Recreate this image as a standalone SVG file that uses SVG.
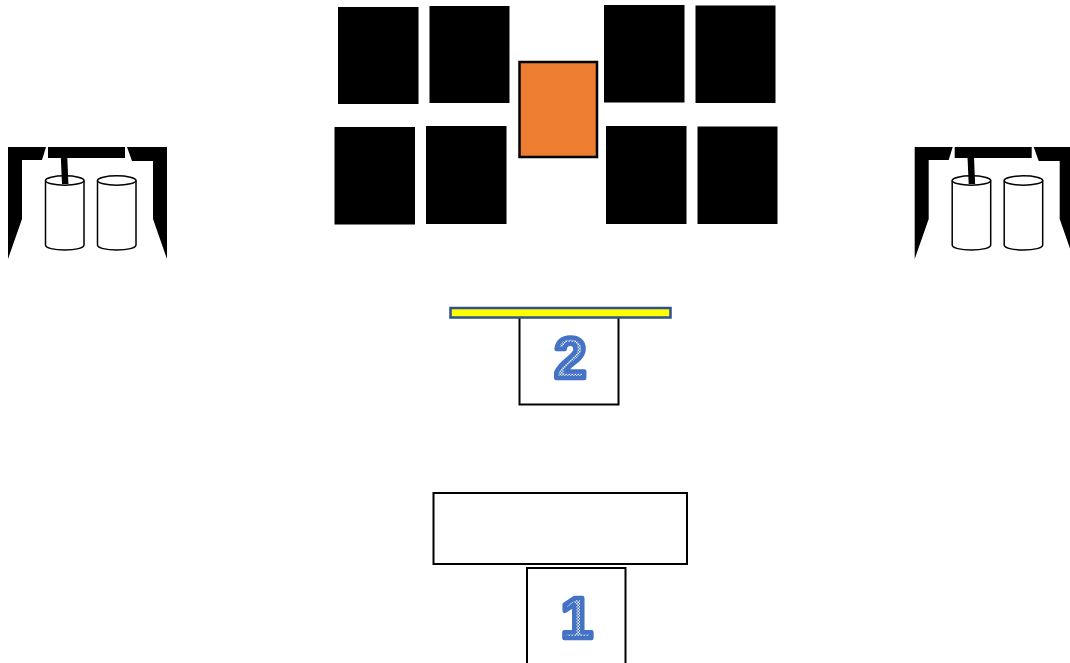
<svg xmlns="http://www.w3.org/2000/svg" width="1070" height="663" viewBox="0 0 1070 663">
<style>
.b{fill:#000}
.cyl{fill:#fff;stroke:#000;stroke-width:1.5}
.box{fill:#fff;stroke:#000;stroke-width:2}
.num{font-family:"Liberation Sans",Arial,sans-serif;font-weight:bold;font-size:58px;text-anchor:middle;fill:url(#dots);stroke:#4472c4;stroke-width:4.500;stroke-linejoin:round}
</style>
<defs>
<pattern id="dots" width="3" height="3" patternUnits="userSpaceOnUse">
<rect width="3" height="3" fill="#4472c4"/>
<rect width="1.5" height="1.5" fill="#e6ecf8"/>
<rect x="1.5" y="1.5" width="1.5" height="1.5" fill="#e6ecf8"/>
</pattern>
<g id="machine">
<polygon class="b" points="8,147 46,147 42,160 22,160 22,219 8,259"/>
<rect class="b" x="48" y="147" width="77" height="11"/>
<polygon class="b" points="127,147 167,147 167,259 153,219 153,161 132,161"/>
<path class="cyl" d="M45.500 180.500V245C45.500 248 54 250 64.750 250S84 248 84 245V180.500"/>
<ellipse class="cyl" cx="64.750" cy="180.500" rx="19.250" ry="4.700"/>
<polygon class="b" points="60.800,157 67.300,157 68.400,184 62,184"/>
<path class="cyl" d="M97.500 180.500V245C97.500 248 106 250 116.750 250S136 248 136 245V180.500"/>
<ellipse class="cyl" cx="116.750" cy="180.500" rx="19.250" ry="4.700"/>
</g>
</defs>
<g id="machine-left"><use href="#machine"/></g>
<g id="machine-right"><use href="#machine" x="906.700"/></g>
<g id="panels">
<rect class="b" x="338" y="7" width="80.500" height="97"/>
<rect class="b" x="429.500" y="6" width="80" height="97"/>
<rect class="b" x="604" y="5" width="80.500" height="97.500"/>
<rect class="b" x="695.500" y="5.500" width="80" height="97.500"/>
<rect class="b" x="334.500" y="127" width="80.500" height="97.500"/>
<rect class="b" x="426" y="126" width="80.500" height="98"/>
<rect class="b" x="606" y="126" width="80.500" height="98"/>
<rect class="b" x="697.500" y="126.500" width="80" height="97.500"/>
</g>
<g id="orange-panel"><rect x="519.500" y="62" width="77.500" height="95" fill="#ed7d31" stroke="#000" stroke-width="2.500"/></g>
<g id="station-2">
<rect class="box" x="519.500" y="315" width="99" height="89.500"/>
<rect x="450.500" y="308" width="220" height="9.500" fill="#ff0" stroke="#2f528f" stroke-width="2.500"/>
<text class="num" x="570.500" y="378">2</text>
</g>
<g id="station-1">
<rect class="box" x="433.500" y="493" width="253.500" height="71"/>
<rect class="box" x="527" y="568" width="98.500" height="100"/>
<text class="num" x="577" y="638">1</text>
</g>
</svg>
